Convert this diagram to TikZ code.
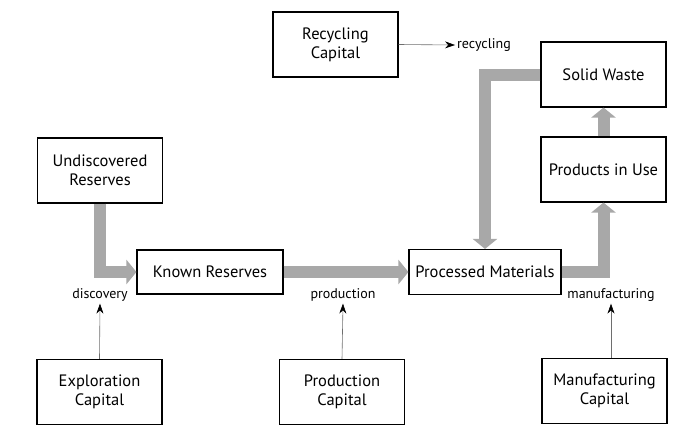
\documentclass[tikz,border=0pt]{standalone}
\usepackage{fontspec}
\setmainfont{PT Sans}
\usepackage{tikz}
\usetikzlibrary{arrows.meta}
\definecolor{flowgray}{RGB}{168,168,168}
\definecolor{thingray}{RGB}{110,110,110}
\tikzset{
  stock/.style={draw=black,line width=1.1pt,fill=white,align=center,font=\fontsize{16.5}{19}\selectfont,inner sep=2pt},
  capital/.style={stock,minimum width=125pt,minimum height=65pt},
  tag/.style={font=\fontsize{14}{16}\selectfont,inner sep=2pt},
  flow/.style={-{Triangle[length=10pt,width=24pt]},line width=12pt,draw=flowgray,line join=miter},
  invest/.style={-{Stealth[length=10pt,width=7pt,black]},line width=0.6pt,draw=thingray},
}
\begin{document}
\begin{tikzpicture}[x=1pt,y=-1pt]
  \useasboundingbox (0,0) rectangle (692,439);
  % stocks
  \node[capital] (undisc) at (100,170.5) {Undiscovered\\Reserves};
  \node[stock,minimum width=146pt,minimum height=44pt] (known) at (210,272) {Known Reserves};
  \node[stock,minimum width=152pt,minimum height=45pt] (proc) at (485,272) {Processed Materials};
  \node[capital] (use) at (603.5,169.5) {Products in Use};
  \node[capital] (waste) at (603.5,74.5) {Solid Waste};
  % capital
  \node[capital] (reccap) at (335.5,44.5) {Recycling\\Capital};
  \node[capital] (explcap) at (99.5,392) {Exploration\\Capital};
  \node[capital] (prodcap) at (342,392) {Production\\Capital};
  \node[capital] (manucap) at (604.5,391) {Manufacturing\\Capital};
  % labels
  \node[tag] (discovery) at (100,295) {discovery};
  \node[tag] (production) at (343,295) {production};
  \node[tag] (manufacturing) at (611,295) {manufacturing};
  \node[tag,anchor=west] (recycling) at (455,45) {recycling};
  % material flows
  \draw[flow] (undisc.south) |- (known.west);
  \draw[flow] (known.east) -- (proc.west);
  \draw[flow] (proc.east) -| (use.south);
  \draw[flow] (use.north) -- (waste.south);
  \draw[flow] (waste.west) -| (proc.north);
  % investments
  \draw[invest] (explcap.north) -- (discovery.south);
  \draw[invest] (prodcap.north) -- (production.south);
  \draw[invest] (manucap.north -| manufacturing) -- (manufacturing.south);
  \draw[invest] (reccap.east) -- (recycling.west);
\end{tikzpicture}
\end{document}
